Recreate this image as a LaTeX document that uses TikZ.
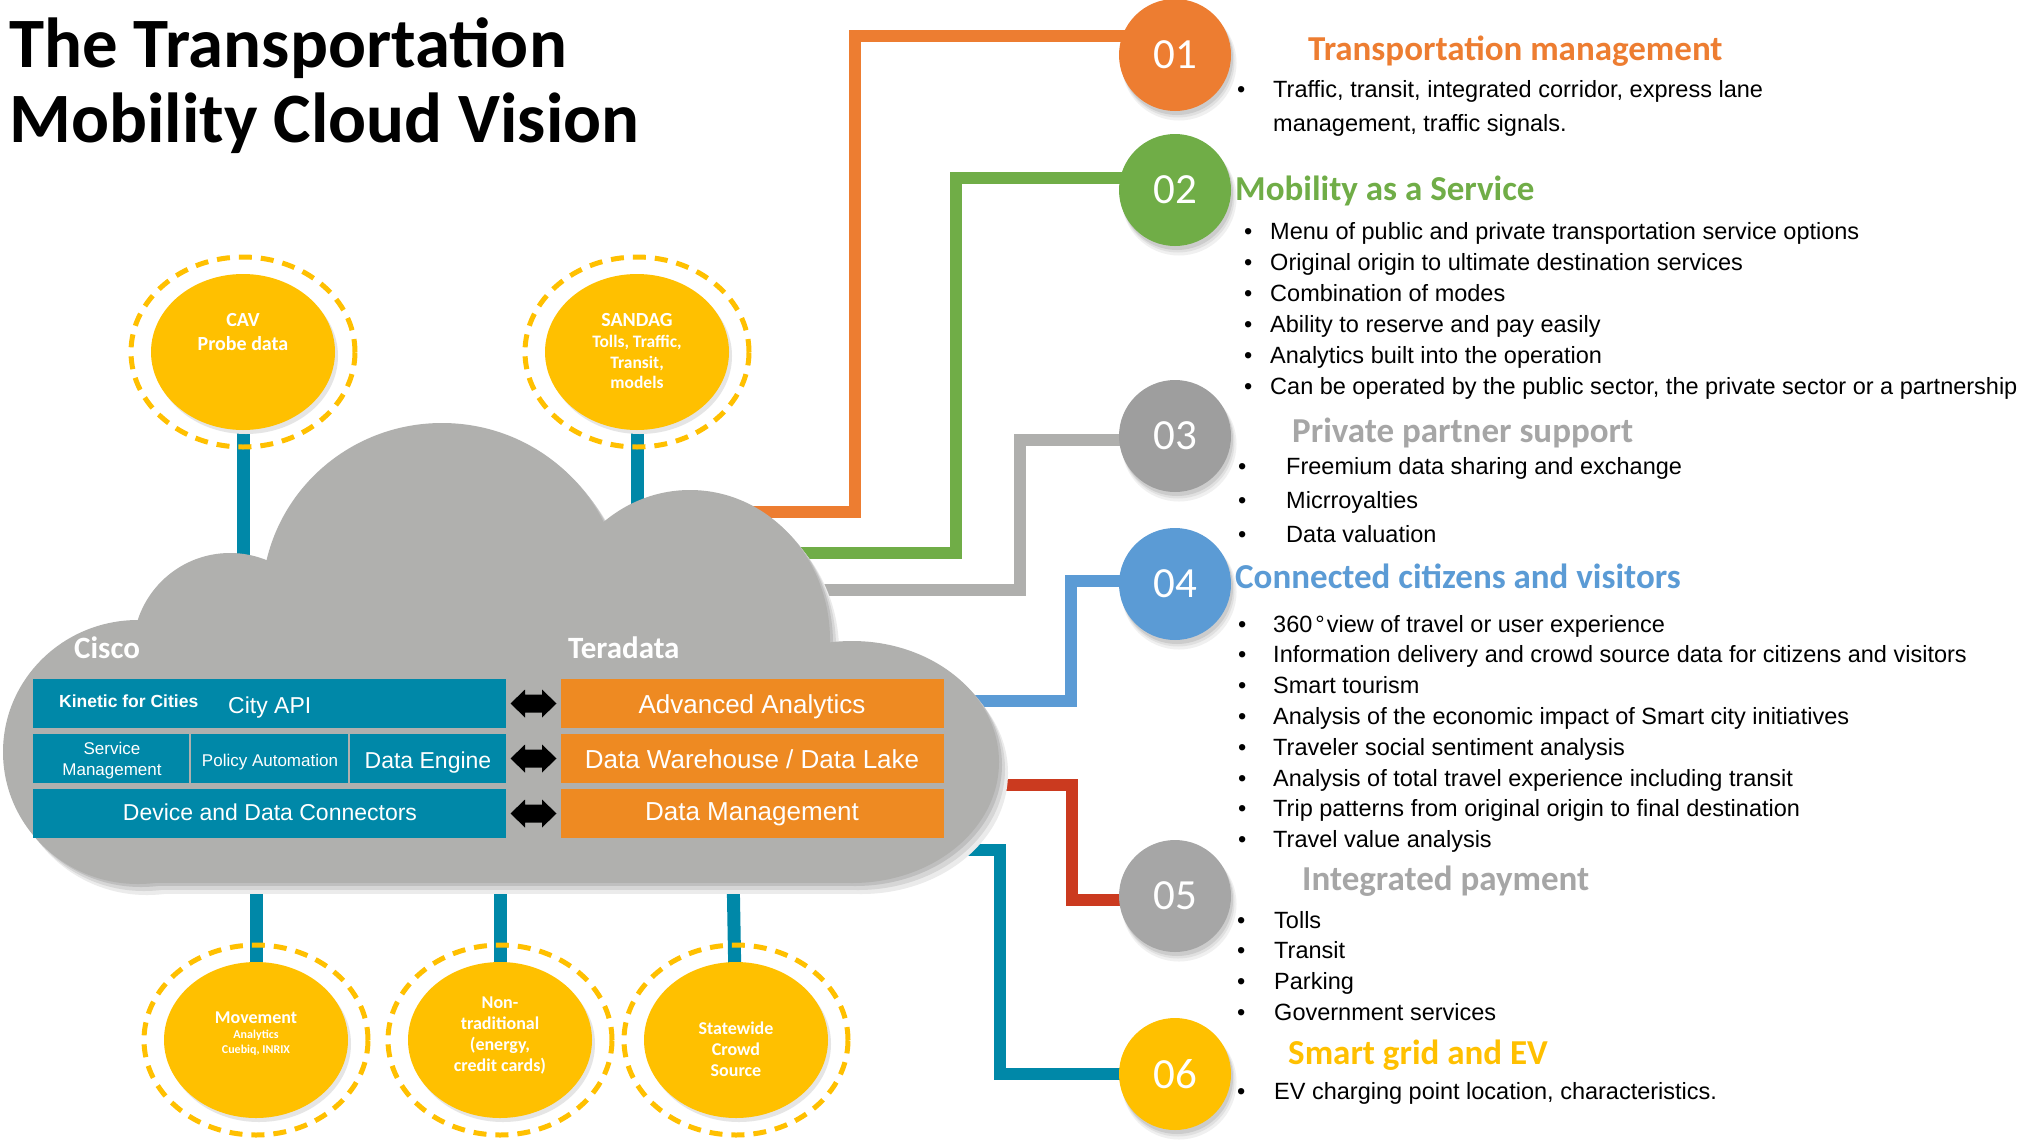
\documentclass[tikz,border=0pt]{standalone}
\usepackage{fontspec}
\setmainfont{Liberation Sans}
\newfontfamily\carl{Carlito}
\usetikzlibrary{shapes.geometric}
\newcommand\myfs[1]{\fontsize{#1}{#1}\selectfont}
\definecolor{corange}{HTML}{ED7D31}
\definecolor{cgreen}{HTML}{70AD47}
\definecolor{cgrayl}{HTML}{AFAFAD}
\definecolor{cblue}{HTML}{5B9BD5}
\definecolor{cred}{HTML}{CB3A1F}
\definecolor{cteal}{HTML}{0088A8}
\definecolor{cyel}{HTML}{FFC000}
\definecolor{ccloud}{HTML}{B0B0AE}
\definecolor{cboxo}{HTML}{EE8A22}
\definecolor{cgray3}{HTML}{9E9E9E}
\definecolor{cgray5}{HTML}{A6A6A6}
\newcommand\cloudparts[1]{%
  \fill[#1] (138,752) ellipse [x radius=135pt, y radius=132pt];
  \fill[#1] (852,762) ellipse [x radius=147pt, y radius=121pt];
  \fill[#1] (230,650) ellipse [x radius=97pt, y radius=97pt];
  \fill[#1] (442,600) ellipse [x radius=180pt, y radius=177pt];
  \fill[#1] (690,640) ellipse [x radius=140pt, y radius=150pt];
  \fill[#1] (138,650) rectangle (852,883);
}
\newcommand\softshadow[3]{%
  \fill[black!6] ([shift={(4,8)}]#1) ellipse [x radius=#2pt+1.5pt, y radius=#3pt+1.5pt];
  \fill[black!12] ([shift={(3,6)}]#1) ellipse [x radius=#2pt+0.5pt, y radius=#3pt+0.5pt];
  \fill[black!20] ([shift={(2,4)}]#1) ellipse [x radius=#2pt, y radius=#3pt];
}
\begin{document}
\begin{tikzpicture}[x=1pt,y=-1pt,
  txt/.style={inner sep=0pt, anchor=base west},
  ctxt/.style={inner sep=0pt, anchor=base},
  numc/.style={circle, minimum size=112pt, inner sep=0pt, text=white, font=\carl\myfs{43}},
  yel/.style={ellipse, fill=cyel, minimum width=184pt, minimum height=156pt, inner sep=0pt},
  ring/.style={draw=cyel, line width=5pt, dash pattern=on 13pt off 9pt},
  conn/.style={line width=12pt},
  stem/.style={line width=13pt, draw=cteal},
  box/.style={inner sep=0pt, anchor=north west, minimum height=49pt},
  tbox/.style={box, fill=cteal},
  obox/.style={box, fill=cboxo, minimum width=383pt},
  item/.style={txt, font=\myfs{23.5}},
  head/.style={txt, font=\carl\bfseries\myfs{35}},
  ylab/.style={ctxt, text=white, font=\carl\bfseries\myfs{18}},
  wlab/.style={ctxt, text=white, font=\myfs{23}},
  olab/.style={ctxt, text=white, font=\myfs{26}},
]
\fill[white] (0,0) rectangle (2028,1143);
\useasboundingbox (0,0) rectangle (2028,1143);

% ---------- positions
\coordinate (cavc) at (243,352);
\coordinate (sanc) at (637,352);
\coordinate (movc) at (256,1040);
\coordinate (nonc) at (500,1040);
\coordinate (swc) at (736,1040);
\coordinate (n01c) at (1175,55);
\coordinate (n02c) at (1175,190);
\coordinate (n03c) at (1175,436);
\coordinate (n04c) at (1175,584);
\coordinate (n05c) at (1175,896);
\coordinate (n06c) at (1175,1074);
\coordinate (cavin) at (243,600);
\coordinate (sanin) at (637,560);
\coordinate (movin) at (256,870);
\coordinate (nonin) at (500,870);
\coordinate (swin) at (733,870);
\coordinate (os1) at (700,512);  \coordinate (ok1) at (855,36);
\coordinate (os2) at (700,553);  \coordinate (ok2) at (956,178);
\coordinate (os3) at (750,590);  \coordinate (ok3) at (1020,440);
\coordinate (os4) at (900,701);  \coordinate (ok4) at (1071,581);
\coordinate (os5) at (900,785);  \coordinate (ok5) at (1072,900);
\coordinate (os6) at (900,850);  \coordinate (ok6) at (1000,1074);

% ---------- connectors (drawn first, behind everything)
\draw[stem] (cavc) -- (cavin);
\draw[stem] (sanc) -- (sanin);
\draw[stem] (movc) -- (movin);
\draw[stem] (nonc) -- (nonin);
\draw[stem] (swc) -- (swin);
\draw[conn, corange] (os1) -| (ok1) -- (ok1 -| n01c);
\draw[conn, cgreen] (os2) -| (ok2) -- (ok2 -| n02c);
\draw[conn, cgrayl] (os3) -| (ok3) -- (ok3 -| n03c);
\draw[conn, cblue] (os4) -| (ok4) -- (ok4 -| n04c);
\draw[conn, cred] (os5) -| (ok5) -- (ok5 -| n05c);
\draw[conn, cteal] (os6) -| (ok6) -- (ok6 -| n06c);

% ---------- cloud
\cloudparts{black!8, shift={(9,11)}}
\cloudparts{black!16, shift={(6,7)}}
\cloudparts{black!25, shift={(3,3)}}
\cloudparts{ccloud}

% ---------- title
\node[txt, font=\carl\bfseries\myfs{70.8}] (title1) at (9,67) {The Transportation};
\node[txt, font=\carl\bfseries\myfs{70.8}] (title2) at (9,142) {Mobility Cloud Vision};

\node[txt, text=white, font=\carl\bfseries\myfs{31}] (cisco) at (74,658) {Cisco};
\node[txt, text=white, font=\carl\bfseries\myfs{31}] (tera) at (568,658) {Teradata};

% teal boxes
\node[tbox, minimum width=473pt] (k1) at (33,679) {};
\node[tbox, minimum width=156pt] (k2a) at (33,734) {};
\node[tbox, minimum width=157pt] (k2b) at (191,734) {};
\node[tbox, minimum width=156pt] (k2c) at (350,734) {};
\node[tbox, minimum width=473pt] (k3) at (33,789) {};
% orange boxes
\node[obox] (t1) at (561,679) {};
\node[obox] (t2) at (561,734) {};
\node[obox] (t3) at (561,789) {};

\node[txt, text=white, font=\bfseries\myfs{17.5}] (kin) at (59,707) {Kinetic for Cities};
\node[txt, text=white, font=\myfs{23}] (api) at (228,713) {City API};
\node[ctxt, text=white, font=\myfs{17}] (svc1) at (112,754) {Service};
\node[ctxt, text=white, font=\myfs{17}] (svc2) at (112,775) {Management};
\node[ctxt, text=white, font=\myfs{17}] (pol) at (270,766) {Policy Automation};
\node[wlab] (deng) at (428,768) {Data Engine};
\node[wlab] (ddc) at (270,820) {Device and Data Connectors};
\node[olab] (aa) at (752,713) {Advanced Analytics};
\node[olab] (dw) at (752,768) {Data Warehouse / Data Lake};
\node[olab] (dm) at (752,820) {Data Management};

% double arrows
\foreach \yc/\nm in {703.5/da1, 758.5/da2, 813.5/da3}{
  \coordinate (\nm) at (533.5,\yc);
  \fill[black, shift={(\nm)}] (-23,0) -- (-8.5,-14) -- (-8.5,-9) -- (8.5,-9) -- (8.5,-14)
     -- (23,0) -- (8.5,14) -- (8.5,9) -- (-8.5,9) -- (-8.5,14) -- cycle;
}

% ---------- yellow source circles
\foreach \nm in {cav, san, mov, non, sw}{
  \draw[ring] (\nm c) ellipse [x radius=112pt, y radius=95pt];
  \fill[black!10] ([shift={(3,4)}]\nm c) ellipse [x radius=92pt, y radius=78pt];
  \node[yel] (\nm) at (\nm c) {};
}
\node[ylab, font=\carl\bfseries\myfs{20}] (cav1) at (243,326) {CAV};
\node[ylab, font=\carl\bfseries\myfs{20}] (cav2) at (243,350) {Probe data};
\node[ylab, font=\carl\bfseries\myfs{20}] (san1) at (637,326) {SANDAG};
\node[ylab, font=\carl\bfseries\myfs{17.5}] (san2) at (637,347) {Tolls, Traffic,};
\node[ylab, font=\carl\bfseries\myfs{17.5}] (san3) at (637,368) {Transit,};
\node[ylab, font=\carl\bfseries\myfs{17.5}] (san4) at (637,388) {models};
\node[ylab] (mov1) at (256,1023) {Movement};
\node[ylab, font=\carl\bfseries\myfs{12}] (mov2) at (256,1038) {Analytics};
\node[ylab, font=\carl\bfseries\myfs{12}] (mov3) at (256,1053) {Cuebiq, INRIX};
\node[ylab] (non1) at (500,1008) {Non-};
\node[ylab] (non2) at (500,1029) {traditional};
\node[ylab] (non3) at (500,1050) {(energy,};
\node[ylab] (non4) at (500,1071) {credit cards)};
\node[ylab] (sw1) at (736,1034) {Statewide};
\node[ylab] (sw2) at (736,1055) {Crowd};
\node[ylab] (sw3) at (736,1076) {Source};

% ---------- number circles
\foreach \nm in {n01,n02,n03,n04,n05,n06}{ \softshadow{\nm c}{56}{56} }
\node[numc, fill=corange] (n01) at (n01c) {01};
\node[numc, fill=cgreen] (n02) at (n02c) {02};
\node[numc, fill=cgray3] (n03) at (n03c) {03};
\node[numc, fill=cblue] (n04) at (n04c) {04};
\node[numc, fill=cgray5] (n05) at (n05c) {05};
\node[numc, fill=cyel] (n06) at (n06c) {06};

% ---------- right-hand texts
\node[head, text=corange] (h1) at (1308,60) {Transportation management};
\node[item] (b1a) at (1237,97) {•};
\node[item] (i1a) at (1273,97) {Traffic, transit, integrated corridor, express lane};
\node[item] (i1b) at (1273,131) {management, traffic signals.};

\node[head, text=cgreen] (h2) at (1235,200) {Mobility as a Service};
\foreach \t [count=\i] in {Menu of public and private transportation service options,
   Original origin to ultimate destination services, Combination of modes,
   Ability to reserve and pay easily, Analytics built into the operation,
   {Can be operated by the public sector, the private sector or a partnership}}{
  \node[item] (b2\i) at (1244,{239+31*(\i-1)}) {•};
  \node[item] (i2\i) at (1270,{239+31*(\i-1)}) {\t};
}

\node[head, text=cgray5] (h3) at (1292,442) {Private partner support};
\foreach \t [count=\i] in {Freemium data sharing and exchange, Micrroyalties, Data valuation}{
  \node[item] (b3\i) at (1238,{474+34*(\i-1)}) {•};
  \node[item] (i3\i) at (1286,{474+34*(\i-1)}) {\t};
}

\node[head, text=cblue] (h4) at (1235,588) {Connected citizens and visitors};
\foreach \t [count=\i] in {360\kern3pt°\kern2pt view of travel or user experience,
   Information delivery and crowd source data for citizens and visitors,
   Smart tourism, Analysis of the economic impact of Smart city initiatives,
   Traveler social sentiment analysis, Analysis of total travel experience including transit,
   Trip patterns from original origin to final destination, Travel value analysis}{
  \node[item] (b4\i) at (1238,{632+30.8*(\i-1)}) {•};
  \node[item] (i4\i) at (1273,{632+30.8*(\i-1)}) {\t};
}

\node[head, text=cgray5] (h5) at (1302,890) {Integrated payment};
\foreach \t [count=\i] in {Tolls, Transit, Parking, Government services}{
  \node[item] (b5\i) at (1237,{928+30.7*(\i-1)}) {•};
  \node[item] (i5\i) at (1274,{928+30.7*(\i-1)}) {\t};
}

\node[head, text=cyel] (h6) at (1288,1064) {Smart grid and EV};
\node[item] (b61) at (1237,1099) {•};
\node[item] (i61) at (1274,1099) {EV charging point location, characteristics.};
\end{tikzpicture}
\end{document}
